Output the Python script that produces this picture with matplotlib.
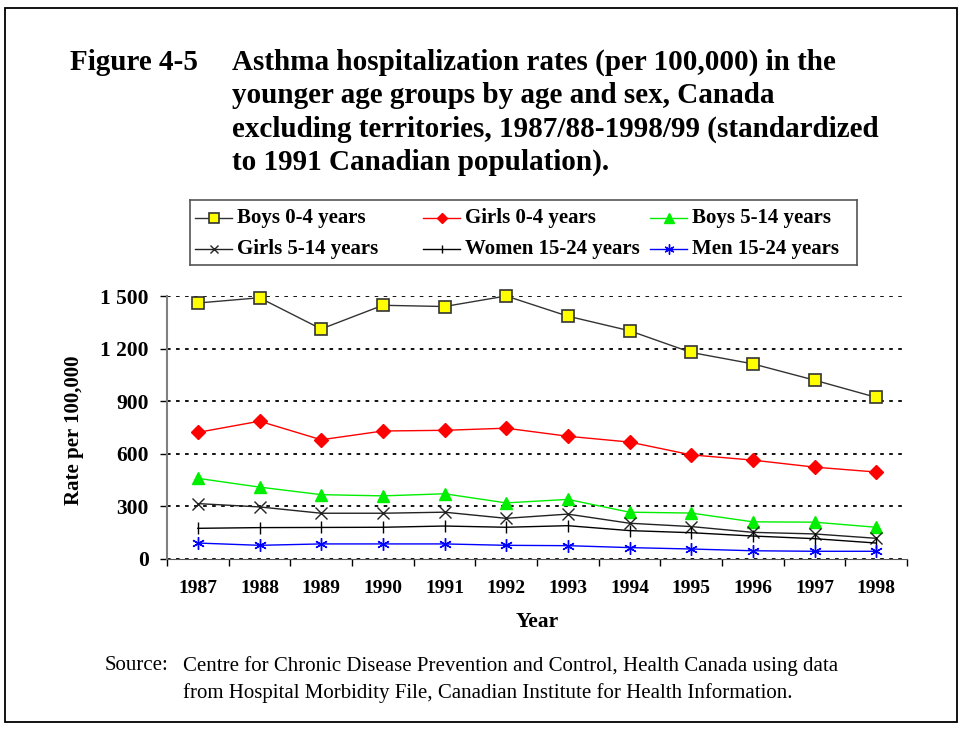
import numpy as np
import matplotlib
matplotlib.use("Agg")
import matplotlib.pyplot as plt
from matplotlib.patches import Rectangle
from matplotlib.ticker import FixedLocator, FuncFormatter

plt.rcParams['font.family'] = ['Liberation Serif', 'DejaVu Serif']

# ---------------------------------------------------------------
# data
# ---------------------------------------------------------------
years = ['1987', '1988', '1989', '1990', '1991', '1992',
         '1993', '1994', '1995', '1996', '1997', '1998']
boys_0_4 = [1460, 1490, 1312, 1447, 1440, 1500, 1385, 1302, 1178, 1113, 1020, 922]
girls_0_4 = [722, 786, 680, 730, 734, 746, 700, 667, 594, 564, 524, 496]
boys_5_14 = [460, 410, 367, 360, 372, 320, 340, 267, 262, 212, 210, 181]
girls_5_14 = [316, 297, 261, 261, 267, 232, 256, 204, 185, 152, 143, 118]
women_15_24 = [175, 179, 180, 181, 188, 181, 190, 162, 150, 131, 116, 91]
men_15_24 = [91, 78, 86, 86, 86, 78, 76, 65, 57, 47, 44, 44]
labels = ['Boys 0-4 years', 'Girls 0-4 years', 'Boys 5-14 years',
          'Girls 5-14 years', 'Women 15-24 years', 'Men 15-24 years']
yticks = [0, 300, 600, 900, 1200, 1500]

series = [boys_0_4, girls_0_4, boys_5_14, girls_5_14, women_15_24, men_15_24]
styles = [
    dict(color='#333333', marker='s', ms=8.5, mfc='#ffff00', mec='#333333', mew=1.2),
    dict(color='#ff0000', marker='D', ms=7, mfc='#ff0000', mec='#ff0000'),
    dict(color='#00ee00', marker='^', ms=9, mfc='#00ee00', mec='#00ee00'),
    dict(color='#222222', marker='x', ms=8, mew=1),
    dict(color='black', marker='|', ms=8, mew=1),
    dict(color='#0000ff', marker=(6, 2, 0), ms=9, mew=1),
]

x = np.arange(len(years))

fig = plt.figure(figsize=(9.65, 7.3), dpi=100)

# outer frame
fig.patches.append(Rectangle((5 / 965, 8 / 730), 952 / 965, 714 / 730,
                             transform=fig.transFigure, fill=False,
                             edgecolor='black', linewidth=1.3))

# title
fig.text(70 / 965, 1 - 49 / 730, 'Figure 4-5', fontsize=21,
         fontweight='bold', va='top')
fig.text(232 / 965, 1 - 49 / 730,
         'Asthma hospitalization rates (per 100,000) in the\n'
         'younger age groups by age and sex, Canada\n'
         'excluding territories, 1987/88-1998/99 (standardized\n'
         'to 1991 Canadian population).',
         fontsize=21, fontweight='bold', va='top', linespacing=1.29)

ax = fig.add_axes([167 / 965, 1 - 559 / 730, 740 / 965, 263 / 730])

for vals, st, lab in zip(series, styles, labels):
    ax.plot(x, vals, lw=1, clip_on=False, zorder=5, label=lab, **st)

ax.set_xlim(-0.5, len(years) - 0.5)
ax.set_ylim(0, 1500)

ax.yaxis.set_major_locator(FixedLocator(yticks))
ax.yaxis.set_major_formatter(
    FuncFormatter(lambda v, p: f'{int(v):,}'.replace(',', ' ')))
ax.grid(axis='y', color='black', linestyle=(0, (2, 3)), linewidth=1.3)
ax.set_axisbelow(True)

ax.set_xticks(x)
ax.set_xticklabels(years)
ax.set_xticks(np.arange(len(years) + 1) - 0.5, minor=True)
ax.tick_params(axis='x', which='major', length=0, pad=15)
ax.tick_params(axis='x', which='minor', length=5, width=1, color='black',
               direction='out')
ax.tick_params(axis='y', length=5, width=1, color='black', direction='out',
               pad=8)
for lab in ax.get_xticklabels() + ax.get_yticklabels():
    lab.set_fontweight('bold')
for lab in ax.get_xticklabels():
    lab.set_fontsize(14)
for lab in ax.get_yticklabels():
    lab.set_fontsize(15.5)

for s in ['top', 'right']:
    ax.spines[s].set_visible(False)
ax.spines['left'].set_color('#808080')
ax.spines['left'].set_linewidth(1.5)
ax.spines['bottom'].set_color('#555555')

ax.set_xlabel('Year', fontsize=15.5, fontweight='bold')
ax.xaxis.set_label_coords(0.5, -(622 - 559) / 263, transform=ax.transAxes)
ax.xaxis.label.set_va('center')
ax.set_ylabel('Rate per 100,000', fontsize=15, fontweight='bold')
ax.yaxis.set_label_coords(-(167 - 74) / 740, 0.49, transform=ax.transAxes)
ax.yaxis.label.set_va('center')

# legend box drawn by hand: fixed-width columns like the original
lx0, ly0, lw_, lh_ = 190, 200, 667, 65
lax = fig.add_axes([lx0 / 965, 1 - (ly0 + lh_) / 730, lw_ / 965, lh_ / 730])
lax.set_xlim(0, lw_)
lax.set_ylim(lh_, 0)
lax.set_xticks([])
lax.set_yticks([])
for sp in lax.spines.values():
    sp.set_color('#555555')
    sp.set_linewidth(1.2)
col_x = [5, 233, 460]
row_y = [18, 49]
for i, (st, lab) in enumerate(zip(styles, labels)):
    cx = col_x[i % 3]
    cy = row_y[i // 3]
    st2 = dict(st)
    st2['ms'] = st['ms'] * 0.8
    lax.plot([cx, cx + 18.5, cx + 37], [cy, cy, cy], lw=1, markevery=[1], **st2)
    lax.text(cx + 42, cy, lab, fontsize=15, fontweight='bold', va='center')

fig.text(105 / 965, 1 - 656 / 730, 'Source:', fontsize=15, va='top')
fig.text(183 / 965, 1 - 656 / 730,
         'Centre for Chronic Disease Prevention and Control, Health Canada using data\n'
         'from Hospital Morbidity File, Canadian Institute for Health Information.',
         fontsize=15, va='top', linespacing=1.5)

fig.savefig('out.png', dpi=100)
